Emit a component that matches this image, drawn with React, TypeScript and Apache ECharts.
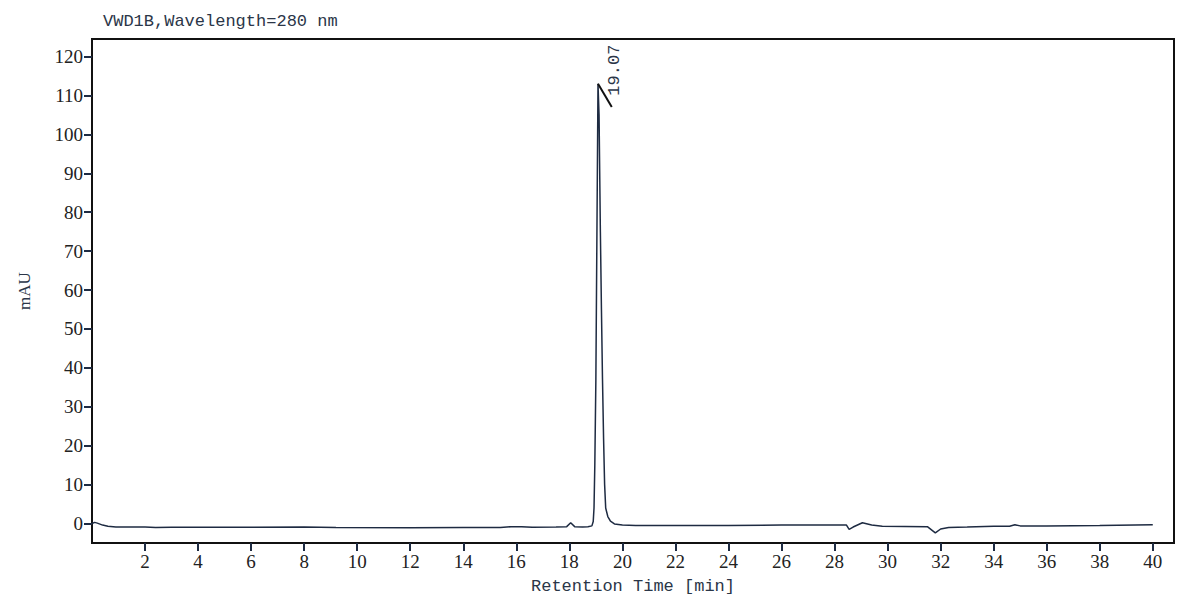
import { useEffect, useRef } from 'react'
import * as echarts from 'echarts'

// retention time [min] and signal [mAU]
const times = [
  0.0, 0.1, 0.2, 0.4, 0.6, 0.9, 2.0, 2.4, 3.0, 5.0, 8.0, 9.2, 12.0, 14.0, 15.4, 15.8, 16.2,
  16.6, 17.5, 17.9, 18.05, 18.2, 18.5, 18.7, 18.85, 18.9, 18.93, 18.96, 19.0, 19.04, 19.08,
  19.12, 19.17, 19.21, 19.25, 19.29, 19.33, 19.37, 19.45, 19.55, 19.7, 20.0, 20.5, 22.0, 24.0,
  26.0, 28.0, 28.45, 28.55, 28.7, 29.05, 29.4, 29.8, 31.5, 31.8, 32.0, 32.3, 33.0, 34.0, 34.6,
  34.8, 35.0, 36.0, 38.0, 40.0,
]
const signal = [
  0.0, 0.3, 0.1, -0.4, -0.7, -0.9, -0.9, -1.0, -0.95, -0.95, -0.9, -1.0, -1.05, -1.0, -1.0, -0.8,
  -0.8, -0.95, -0.9, -0.8, 0.2, -0.8, -0.9, -0.8, -0.6, 0.5, 4, 15, 37, 75, 113, 105, 75, 55, 37,
  22, 10, 4, 1.8, 0.6, -0.1, -0.4, -0.5, -0.5, -0.5, -0.4, -0.4, -0.4, -1.5, -0.9, 0.2, -0.4,
  -0.7, -0.8, -2.4, -1.4, -1.0, -0.9, -0.7, -0.7, -0.3, -0.6, -0.6, -0.5, -0.3,
]

const xTicks = [2, 4, 6, 8, 10, 12, 14, 16, 18, 20, 22, 24, 26, 28, 30, 32, 34, 36, 38, 40]
const yTicks = [0, 10, 20, 30, 40, 50, 60, 70, 80, 90, 100, 110, 120]

const peakLabel = '19.07'
const peakApex = [19.08, 113]
const peakLeaderEnd = [19.6, 107]
const peakLabelPos = [19.72, 116.5]

const lineColor = '#1e2b42'
const monoFont = 'Liberation Mono'
const serifFont = 'Liberation Serif'

export default function App() {
  const chartRef = useRef<HTMLDivElement>(null)

  useEffect(() => {
    if (!chartRef.current) return
    const chart = echarts.init(chartRef.current, null, { renderer: 'svg' })

    const tickRich = {
      t: { fontFamily: serifFont, fontSize: 19, color: '#222' },
    }

    chart.setOption({
      animation: false,
      backgroundColor: '#ffffff',
      textStyle: { fontFamily: serifFont },
      title: {
        text: 'VWD1B,Wavelength=280 nm',
        left: 98,
        top: 8,
        textStyle: { fontFamily: monoFont, fontSize: 17, fontWeight: 'normal', color: '#2b3648' },
      },
      grid: {
        left: 92,
        right: 26,
        top: 39,
        bottom: 56,
        show: true,
        borderColor: '#111',
        borderWidth: 2,
        backgroundColor: 'transparent',
      },
      xAxis: {
        type: 'value',
        min: 0,
        max: 40.8,
        interval: 2,
        name: 'Retention Time [min]',
        nameLocation: 'middle',
        nameGap: 35,
        nameTextStyle: { fontFamily: monoFont, fontSize: 17, color: '#2b3648' },
        axisLine: { onZero: false, lineStyle: { color: '#111', width: 2 } },
        axisTick: { customValues: xTicks, length: 8, lineStyle: { color: '#1e2b42', width: 2 } },
        axisLabel: {
          margin: 9,
          rich: tickRich,
          formatter: (v: number) => (xTicks.includes(v) ? `{t|${v}}` : ''),
        },
        splitLine: { show: false },
      },
      yAxis: {
        type: 'value',
        min: -5,
        max: 124.5,
        interval: 5,
        name: 'mAU',
        nameLocation: 'middle',
        nameGap: 59,
        nameTextStyle: { fontFamily: serifFont, fontSize: 17, color: '#2b3648' },
        axisLine: { onZero: false, lineStyle: { color: '#111', width: 2 } },
        axisTick: { customValues: yTicks, length: 8, lineStyle: { color: '#1e2b42', width: 2 } },
        axisLabel: {
          margin: 9,
          showMaxLabel: false,
          rich: tickRich,
          formatter: (v: number) => (yTicks.includes(v) ? `{t|${v}}` : ''),
        },
        splitLine: { show: false },
      },
      series: [
        {
          type: 'line',
          data: times.map((t, i) => [t, signal[i]]),
          showSymbol: false,
          lineStyle: { color: lineColor, width: 1.5 },
          markLine: {
            silent: true,
            symbol: 'none',
            label: { show: false },
            lineStyle: { color: '#111', width: 2, type: 'solid' },
            data: [[{ coord: peakApex }, { coord: peakLeaderEnd }]],
          },
          markPoint: {
            silent: true,
            symbol: 'circle',
            symbolSize: 0,
            label: {
              show: true,
              position: 'inside',
              formatter: peakLabel,
              rotate: 90,
              fontFamily: monoFont,
              fontSize: 17,
              color: '#2b3648',
            },
            data: [{ coord: peakLabelPos, value: peakLabel }],
          },
        },
      ],
    })

    return () => chart.dispose()
  }, [])

  return (
    <div
      ref={chartRef}
      style={{ position: 'fixed', left: 0, top: 0, width: 1200, height: 600 }}
    />
  )
}
